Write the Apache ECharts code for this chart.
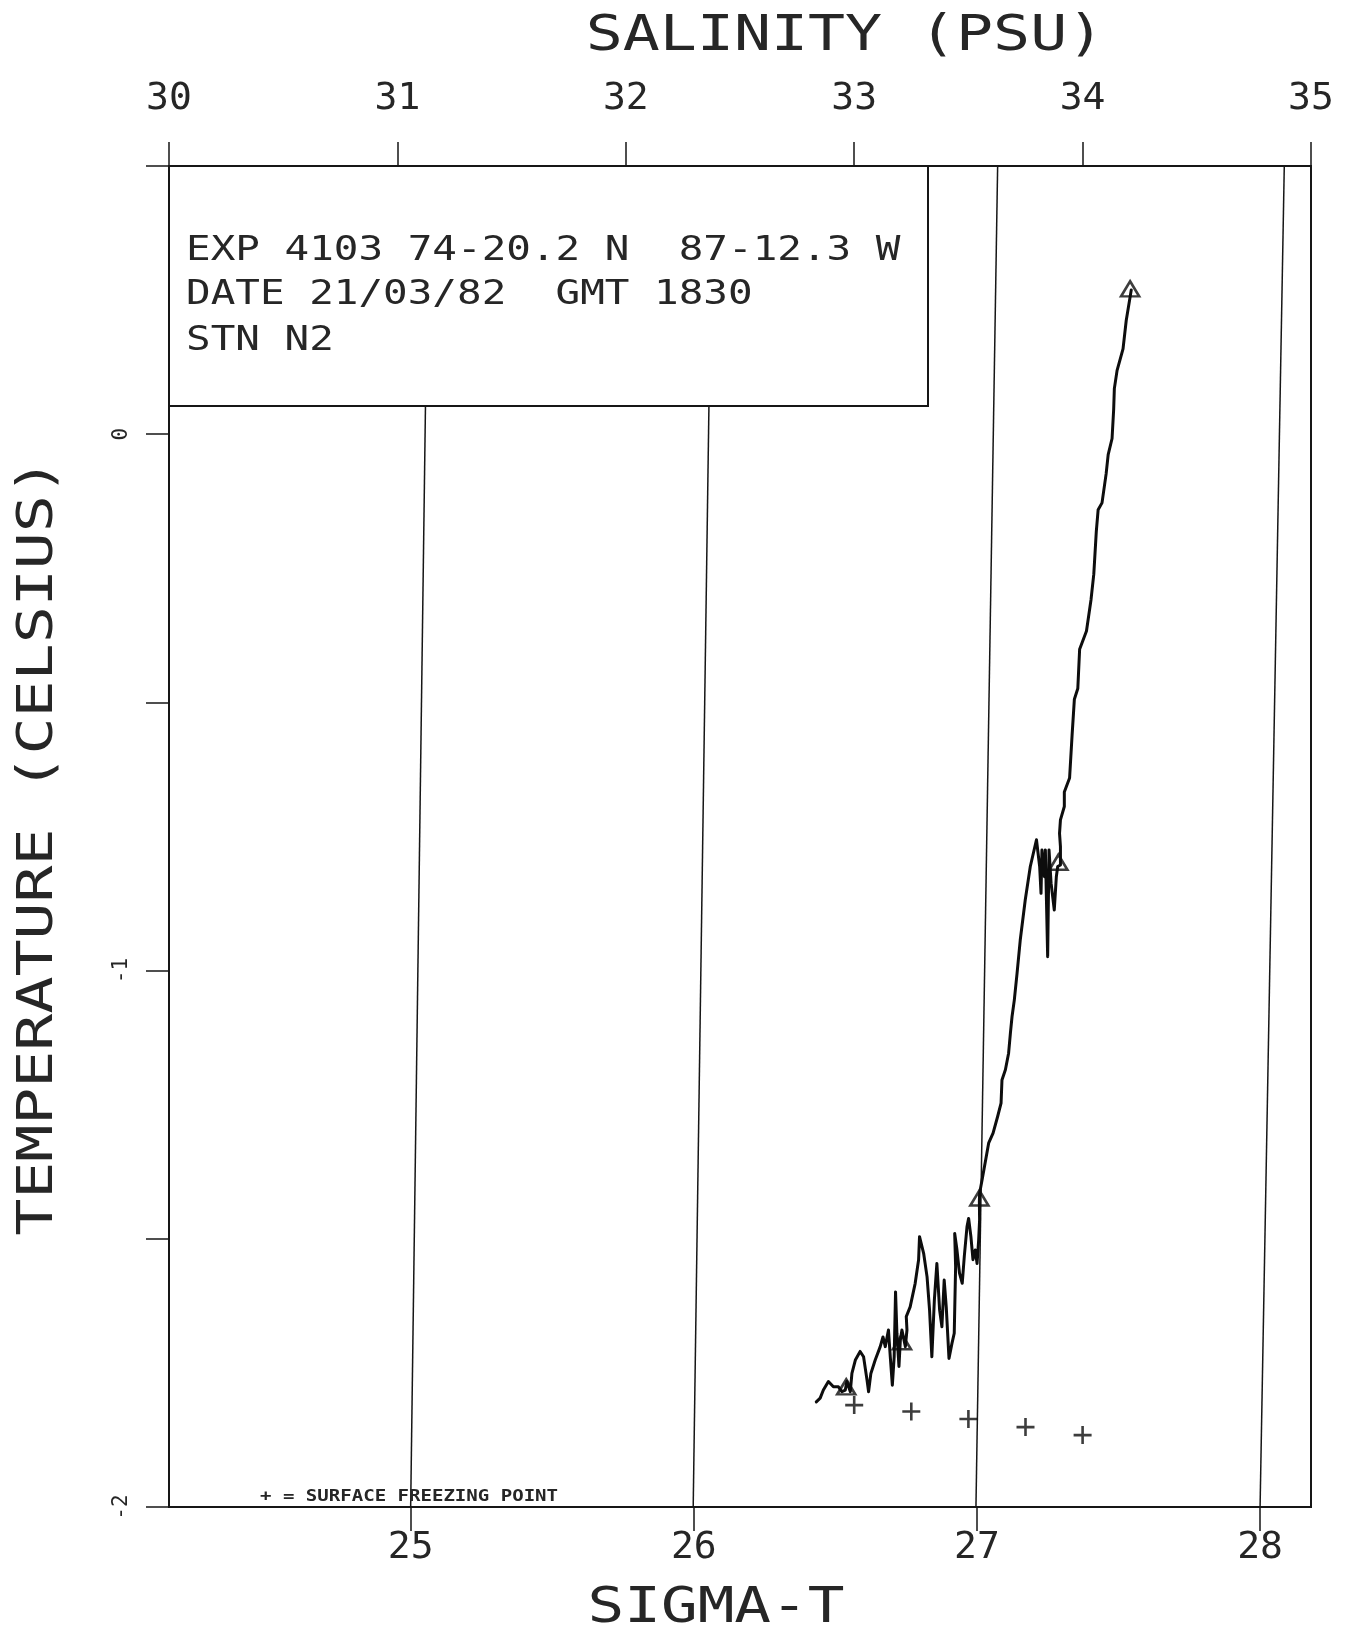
<!DOCTYPE html>
<html>
<head>
<meta charset="utf-8">
<title>T-S diagram EXP 4103</title>
<script src="https://cdn.jsdelivr.net/npm/echarts@6.0.0/dist/echarts.min.js"></script>
<style>
    html, body { margin: 0; padding: 0; background: #fff; }
    #chart { width: 1348px; height: 1630px; }
</style>
</head>
<body>
<div id="chart"></div>
<script>
// axis ticks
const salTicks = [30, 31, 32, 33, 34, 35];
const tempTicks = [-2, -1.5, -1, -0.5, 0, 0.5];
const tempLabels = [-2, -1, 0];
const sigmaTicks = [25, 26, 27, 28];
// sigma-t scale along the bottom, read against salinity at -2 C
const sigmaMin = 24.1466;
const sigmaMax = 28.1798;

// CTD trace, surface -> depth
const curveSal = [
    32.834, 32.851, 32.865, 32.887, 32.909, 32.931, 32.946, 32.961, 32.968, 32.983,
    32.990, 33.005, 33.026, 33.041, 33.056, 33.063, 33.073, 33.092, 33.114, 33.126,
    33.136, 33.150, 33.158, 33.167, 33.175, 33.181, 33.187, 33.196, 33.202, 33.209,
    33.224, 33.231, 33.228, 33.245, 33.267, 33.282, 33.286, 33.304, 33.319, 33.330,
    33.340, 33.351, 33.362, 33.374, 33.384, 33.394, 33.403, 33.415, 33.428, 33.438,
    33.444, 33.440, 33.450, 33.461, 33.473, 33.482, 33.494, 33.501, 33.511, 33.520,
    33.530, 33.538, 33.545, 33.549, 33.548,
    33.549, 33.560, 33.581, 33.589, 33.608, 33.628, 33.643, 33.647, 33.662, 33.676,
    33.684, 33.691, 33.701, 33.713, 33.727, 33.749, 33.771, 33.798, 33.812, 33.818,
    33.822, 33.833, 33.837, 33.847, 33.853, 33.862, 33.876, 33.885, 33.891, 33.903,
    33.903, 33.899, 33.903, 33.920,
    33.920, 33.943, 33.954, 33.964, 33.979, 33.987, 34.017, 34.037, 34.049, 34.060,
    34.068, 34.085, 34.103, 34.112, 34.129, 34.136, 34.139, 34.151, 34.177, 34.191,
    34.213
];
const curveTemp = [
    -1.804, -1.797, -1.782, -1.766, -1.776, -1.776, -1.785, -1.782, -1.766, -1.785,
    -1.751, -1.726, -1.710, -1.720, -1.763, -1.785, -1.751, -1.726, -1.701, -1.683,
    -1.701, -1.670, -1.720, -1.773, -1.720, -1.599, -1.676, -1.738, -1.689, -1.670,
    -1.701, -1.670, -1.645, -1.627, -1.583, -1.539, -1.496, -1.527, -1.571, -1.633,
    -1.720, -1.614, -1.546, -1.633, -1.664, -1.577, -1.627, -1.723, -1.695, -1.676,
    -1.552, -1.490, -1.521, -1.564, -1.583, -1.533, -1.477, -1.462, -1.496, -1.539,
    -1.521, -1.546, -1.502, -1.465, -1.431,
    -1.415, -1.390, -1.340, -1.321, -1.303, -1.272, -1.247, -1.204, -1.185, -1.154,
    -1.116, -1.086, -1.055, -1.005, -0.943, -0.868, -0.806, -0.756, -0.806, -0.856,
    -0.775, -0.825, -0.775, -0.974, -0.775, -0.837, -0.887, -0.825, -0.806, -0.803,
    -0.769, -0.744, -0.719, -0.694,
    -0.667, -0.641, -0.561, -0.494, -0.474, -0.401, -0.367, -0.308, -0.261, -0.181,
    -0.141, -0.128, -0.074, -0.038, -0.008, 0.046, 0.085, 0.119, 0.159, 0.212,
    0.269
];

// open triangles along the trace
const markSal = [32.965, 33.209, 33.548, 33.894, 34.208];
const markTemp = [-1.776, -1.692, -1.424, -0.798, 0.271];

// surface freezing point crosses
const freezeSal = [33.0, 33.25, 33.5, 33.75, 34.0];
const freezeTemp = [-1.810, -1.822, -1.836, -1.851, -1.866];

// isopycnals: salinity at the cold (-2) and warm (0.5) ends
const isoTemp = [-2, 0.5];
const isoSalCold = [31.058, 32.295, 33.533, 34.777];
const isoSalWarm = [31.137, 32.379, 33.628, 34.883];

const salTitle = 'SALINITY (PSU)';
const sigmaTitle = 'SIGMA-T';
const tempTitle = 'TEMPERATURE (CELSIUS)';
const boxLines = ['EXP 4103 74-20.2 N  87-12.3 W', 'DATE 21/03/82  GMT 1830', 'STN N2'];
const boxLineY = [251, 295, 341];

const FONT = '"DejaVu Sans Mono", "Liberation Mono", monospace';
const INK = '#161616';
const TEXT_INK = '#262626';

const zip = (xs, ys) => xs.map((x, i) => [x, ys[i]]);

// plotter-style text, stretched to the wide letter pitch of the original
const plotText = (text, x, y, size, sx, extra, align) => Object.assign({
    type: 'text',
    z: 51,
    x: x,
    y: y,
    scaleX: sx,
    style: {
        text: text,
        font: size + 'px ' + FONT,
        fill: TEXT_INK,
        textAlign: align || 'left',
        textVerticalAlign: 'middle',
        verticalAlign: 'middle'
    }
}, extra || {});

// isopycnal lines
const isoSeries = sigmaTicks.map((s, i) => ({
    type: 'line',
    name: 'sigma-t ' + s,
    xAxisIndex: 0,
    yAxisIndex: 0,
    data: [[isoSalCold[i], isoTemp[0]], [isoSalWarm[i], isoTemp[1]]],
    symbol: 'none',
    silent: true,
    z: 1,
    lineStyle: { color: INK, width: 1.5 }
}));

const option = {
    animation: false,
    backgroundColor: '#fff',
    grid: {
        left: 169,
        top: 166,
        right: 37,
        bottom: 123,
        show: true,
        borderColor: INK,
        borderWidth: 2,
        containLabel: false,
        outerBoundsMode: 'none'
    },
    xAxis: [{
        type: 'value',
        position: 'top',
        min: 30,
        max: 35,
        interval: 1,
        axisLine: { show: true, onZero: false, lineStyle: { color: INK, width: 2 } },
        axisTick: { show: true, inside: false, length: 24, customValues: salTicks, lineStyle: { color: INK, width: 1.5 } },
        axisLabel: { show: true, margin: 48, fontFamily: FONT, fontSize: 38, color: TEXT_INK, customValues: salTicks },
        splitLine: { show: false }
    }, {
        type: 'value',
        position: 'bottom',
        min: sigmaMin,
        max: sigmaMax,
        axisLine: { show: true, onZero: false, lineStyle: { color: INK, width: 2 } },
        axisTick: { show: true, inside: false, length: 24, customValues: sigmaTicks, lineStyle: { color: INK, width: 1.5 } },
        axisLabel: { show: true, margin: 22, fontFamily: FONT, fontSize: 38, color: TEXT_INK, customValues: sigmaTicks },
        splitLine: { show: false }
    }],
    yAxis: {
        type: 'value',
        min: -2,
        max: 0.5,
        interval: 0.5,
        axisLine: { show: true, onZero: false, lineStyle: { color: INK, width: 2 } },
        axisTick: { show: true, inside: false, length: 23, customValues: tempTicks, lineStyle: { color: INK, width: 1.5 } },
        axisLabel: { show: true, rotate: 90, margin: 37, fontFamily: FONT, fontSize: 21, color: TEXT_INK, customValues: tempLabels },
        splitLine: { show: false }
    },
    series: isoSeries.concat([{
        type: 'line',
        name: 'T-S trace',
        data: zip(curveSal, curveTemp),
        symbol: 'none',
        z: 3,
        lineStyle: { color: '#0d0d0d', width: 3, join: 'round', cap: 'round' }
    }, {
        type: 'scatter',
        name: 'markers',
        data: zip(markSal, markTemp),
        symbol: 'triangle',
        symbolSize: [18, 15],
        z: 4,
        itemStyle: { color: 'rgba(255,255,255,0)', borderColor: '#0d0d0d', borderWidth: 2.6 }
    }, {
        type: 'scatter',
        name: 'surface freezing point',
        data: zip(freezeSal, freezeTemp),
        symbol: 'path://M0,7.7h18v2.6h-18z M7.7,0h2.6v18h-2.6z',
        symbolSize: 18,
        z: 4,
        itemStyle: { color: '#0d0d0d' }
    }]),
    graphic: [{
        type: 'rect',
        z: 50,
        shape: { x: 169, y: 166, width: 759, height: 240 },
        style: { fill: '#fff', stroke: INK, lineWidth: 2 }
    }].concat(
        boxLines.map((t, i) => plotText(t, 186, boxLineY[i], 33, 1.24)),
        [
            plotText(salTitle, 845, 37, 50, 1.23, null, 'center'),
            plotText(sigmaTitle, 716, 1609, 50, 1.22, null, 'center'),
            plotText(tempTitle, 39, 847, 50, 1.23, { rotation: Math.PI / 2 }, 'center'),
            plotText('+ = SURFACE FREEZING POINT', 260, 1497, 16, 1.19, null)
        ]
    )
};
option.graphic[option.graphic.length - 1].style.font = 'bold 16px ' + FONT;

const myChart = echarts.init(document.getElementById('chart'), null, { renderer: 'canvas' });
myChart.setOption(option);
</script>
</body>
</html>
